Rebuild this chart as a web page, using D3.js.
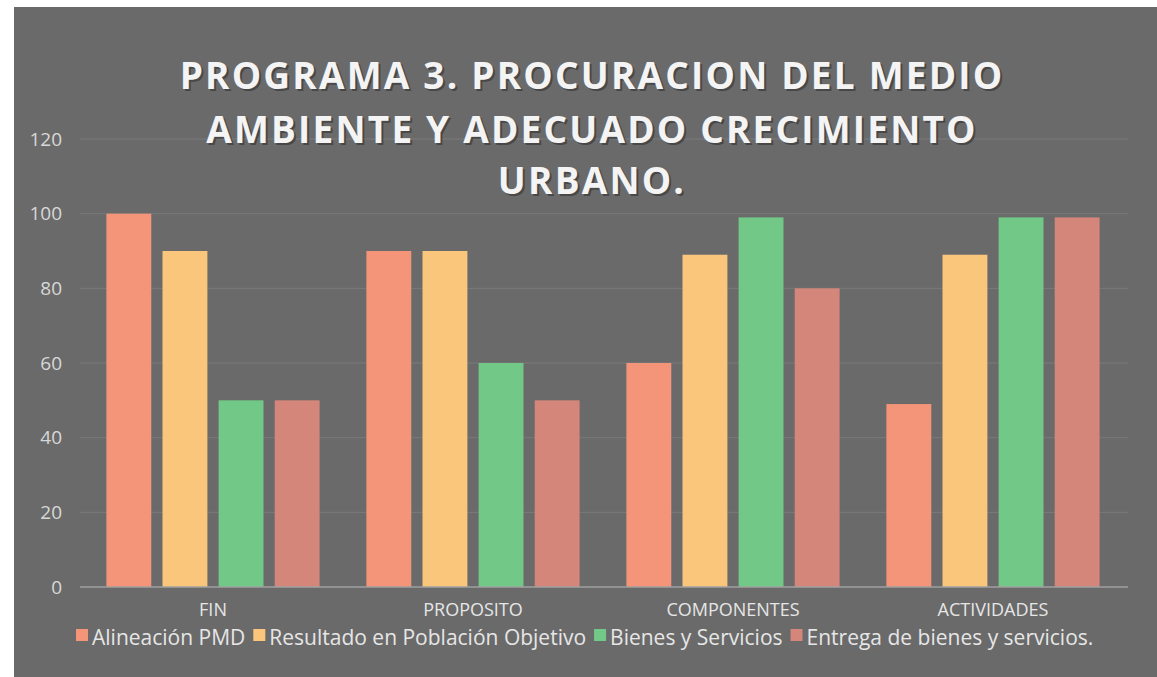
<!DOCTYPE html>
<html><head><meta charset="utf-8">
<script src="https://cdn.jsdelivr.net/npm/d3@7"></script>
<style>body{margin:0;background:#fff}svg{display:block}</style>
</head><body>
<svg id="c" width="1157" height="677"></svg>
<script>
const categories = ["FIN", "PROPOSITO", "COMPONENTES", "ACTIVIDADES"];
const seriesNames = ["Alineación PMD", "Resultado en Población Objetivo", "Bienes y Servicios", "Entrega de bienes y servicios."];
const alineacion = [100, 90, 60, 49];
const resultado = [90, 90, 89, 89];
const bienes = [50, 60, 99, 99];
const entrega = [50, 50, 80, 99];
const yTicks = [0, 20, 40, 60, 80, 100, 120];
const titleLines = ["PROGRAMA 3. PROCURACION DEL MEDIO", "AMBIENTE Y ADECUADO CRECIMIENTO", "URBANO."];
const colors = ["#f4957a", "#f9c67c", "#72c987", "#d5867a"];

const series = [alineacion, resultado, bienes, entrega];
const svg = d3.select("#c");
svg.append("rect").attr("x", 14).attr("y", 7).attr("width", 1143).attr("height", 670).attr("fill", "#6a6a6a");

const x0 = d3.scaleBand().domain(categories).range([83, 1123]).paddingInner(0.18).paddingOuter(0.09);
const x1 = d3.scaleBand().domain(d3.range(4)).range([0, x0.bandwidth()]).paddingInner(0.2);
const y = d3.scaleLinear().domain([0, 120]).range([587, 139]);

// gridlines
svg.append("g").selectAll("line").data(yTicks.filter(d => d > 0)).join("line")
  .attr("x1", 80).attr("x2", 1128).attr("y1", d => y(d)).attr("y2", d => y(d))
  .attr("stroke", "#7a7a7a").attr("stroke-width", 1);

// y axis labels
const yAxis = d3.axisLeft(y).tickValues(yTicks).tickSize(0).tickPadding(0);
const ya = svg.append("g").attr("transform", "translate(62,0)").call(yAxis);
ya.select(".domain").remove();
ya.selectAll("text").attr("fill", "#d8d8d8").style("font-family", "'Open Sans', sans-serif").style("font-size", "19px");

// bars
const g = svg.append("g");
categories.forEach((c, ci) => {
  series.forEach((s, si) => {
    g.append("rect")
      .attr("x", x0(c) + x1(si)).attr("width", x1.bandwidth())
      .attr("y", y(s[ci])).attr("height", y(0) - y(s[ci]))
      .attr("fill", colors[si]);
  });
});

// baseline
svg.append("line").attr("x1", 80).attr("x2", 1128).attr("y1", y(0)).attr("y2", y(0)).attr("stroke", "#a0a0a0").attr("stroke-width", 1.5);

// x axis labels
const xAxis = d3.axisBottom(x0).tickSize(0).tickPadding(0);
const xa = svg.append("g").attr("transform", "translate(0,603)").call(xAxis);
xa.select(".domain").remove();
xa.selectAll("text").attr("fill", "#e6e6e6").style("font-family", "'Open Sans', sans-serif").style("font-size", "18px").attr("dy", "0.71em");

// title
const t = svg.append("g");
titleLines.forEach((line, i) => {
  const yy = [89, 143, 194][i];
  t.append("text").attr("x", 592).attr("y", yy + 2).attr("text-anchor", "middle")
    .attr("fill", "#3a3a3a").attr("opacity", 0.7)
    .style("font-family", "'Open Sans', sans-serif").style("font-weight", "700").style("font-size", "37px").style("letter-spacing", "2.2px")
    .attr("dx", 2).text(line);
  t.append("text").attr("x", 592).attr("y", yy).attr("text-anchor", "middle")
    .attr("fill", "#f4f4f4")
    .style("font-family", "'Open Sans', sans-serif").style("font-weight", "700").style("font-size", "37px").style("letter-spacing", "2.2px")
    .text(line);
});

// legend
const leg = svg.append("g").style("font-family", "'Open Sans', sans-serif").style("font-size", "21px");
let lx = 76;
seriesNames.forEach((n, i) => {
  leg.append("rect").attr("x", lx).attr("y", 629).attr("width", 12).attr("height", 12).attr("fill", colors[i]);
  const tx = leg.append("text").attr("x", lx + 16).attr("y", 645).attr("fill", "#e6e6e6").text(n);
  lx += 16 + tx.node().getComputedTextLength() + 8;
});
</script>
</body></html>
